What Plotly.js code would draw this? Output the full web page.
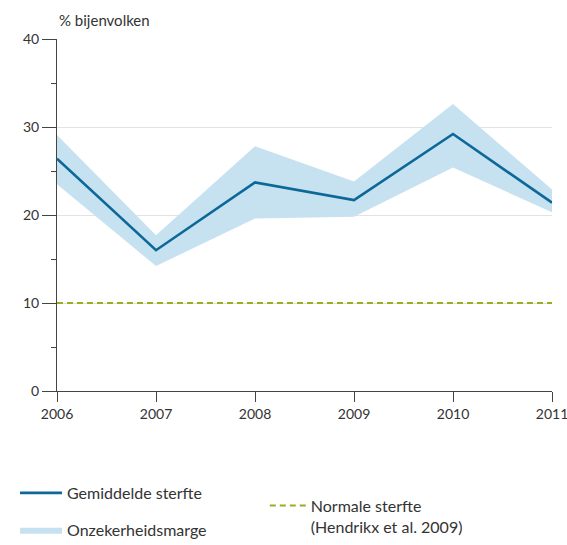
<!DOCTYPE html>
<html><head><meta charset="utf-8">
<script src="https://cdn.plot.ly/plotly-3.0.1.min.js"></script>
<style>html,body{margin:0;padding:0;background:#fff}</style>
</head><body>
<div id="chart" style="width:567px;height:545px"></div>
<script>
const years = [2006, 2007, 2008, 2009, 2010, 2011];
const meanMortality = [26.4, 16.0, 23.7, 21.7, 29.2, 21.4];
const upperMargin = [29.1, 17.7, 27.8, 23.8, 32.6, 22.9];
const lowerMargin = [23.5, 14.2, 19.6, 19.8, 25.4, 20.3];
const normalMortality = [10, 10, 10, 10, 10, 10];
const yTicks = [0, 10, 20, 30, 40];

const FONT = 'Lato, "Open Sans", sans-serif';

const traces = [
  {x: years, y: lowerMargin, mode: 'lines', line: {width: 0, color: '#c6e1f0'},
   showlegend: false, hoverinfo: 'skip'},
  {x: years, y: upperMargin, mode: 'lines', fill: 'tonexty', fillcolor: '#c6e1f0',
   line: {width: 0, color: '#c6e1f0'}, name: 'Onzekerheidsmarge', legend: 'legend', legendgroup: 'b', legendrank: 2},
  {x: years, y: normalMortality, mode: 'lines', line: {color: '#9aae1e', width: 2, dash: '6px,4px'},
   name: 'Normale sterfte<br>(Hendrikx et al. 2009)', legend: 'legend2'},
  {x: years, y: meanMortality, mode: 'lines', line: {color: '#0c6899', width: 2.6},
   name: 'Gemiddelde sterfte', legend: 'legend', legendgroup: 'a', legendrank: 1}
];

const layout = {
  width: 567, height: 545,
  margin: {l: 57, r: 15, t: 39, b: 154, autoexpand: false},
  paper_bgcolor: '#fff', plot_bgcolor: '#fff',
  font: {family: FONT, color: '#333', size: 13},
  xaxis: {range: [2006, 2011], tickvals: years, ticktext: years.map(String),
    showline: true, linecolor: '#444', linewidth: 1, ticks: 'outside', ticklen: 10,
    tickcolor: '#444', showgrid: false, zeroline: false, fixedrange: true, automargin: false,
    ticklabeloverflow: 'allow', tickfont: {size: 14, color: '#333'}},
  yaxis: {range: [0, 40], tickvals: yTicks, showline: true, linecolor: '#444', linewidth: 1,
    ticks: 'outside', ticklen: 14, tickcolor: '#444', showgrid: true, gridcolor: '#e3e3e3',
    zeroline: false, automargin: false, tickfont: {size: 14, color: '#333'},
    minor: {dtick: 5, ticks: 'outside', ticklen: 5, tickcolor: '#444', showgrid: false}},
  legend: {x: 0.0265, xref: 'container', xanchor: 'left', y: 0.1266, yref: 'container', yanchor: 'top',
    orientation: 'v', font: {size: 16, color: '#333'}, tracegroupgap: 13, traceorder: 'grouped',
    itemwidth: 42, bgcolor: 'rgba(0,0,0,0)'},
  legend2: {x: 0.467, xref: 'container', xanchor: 'left', y: 0.1035, yref: 'container', yanchor: 'top',
    valign: 'top', font: {size: 16, color: '#333'}, itemwidth: 36, bgcolor: 'rgba(0,0,0,0)'},
  annotations: [{text: '% bijenvolken', xref: 'paper', yref: 'paper', x: 0, y: 1,
    xanchor: 'left', yanchor: 'bottom', yshift: 8, showarrow: false,
    font: {size: 15, color: '#333'}}],
  showlegend: true
};

Plotly.newPlot('chart', traces, layout, {displayModeBar: false, staticPlot: true});
</script>
</body></html>
